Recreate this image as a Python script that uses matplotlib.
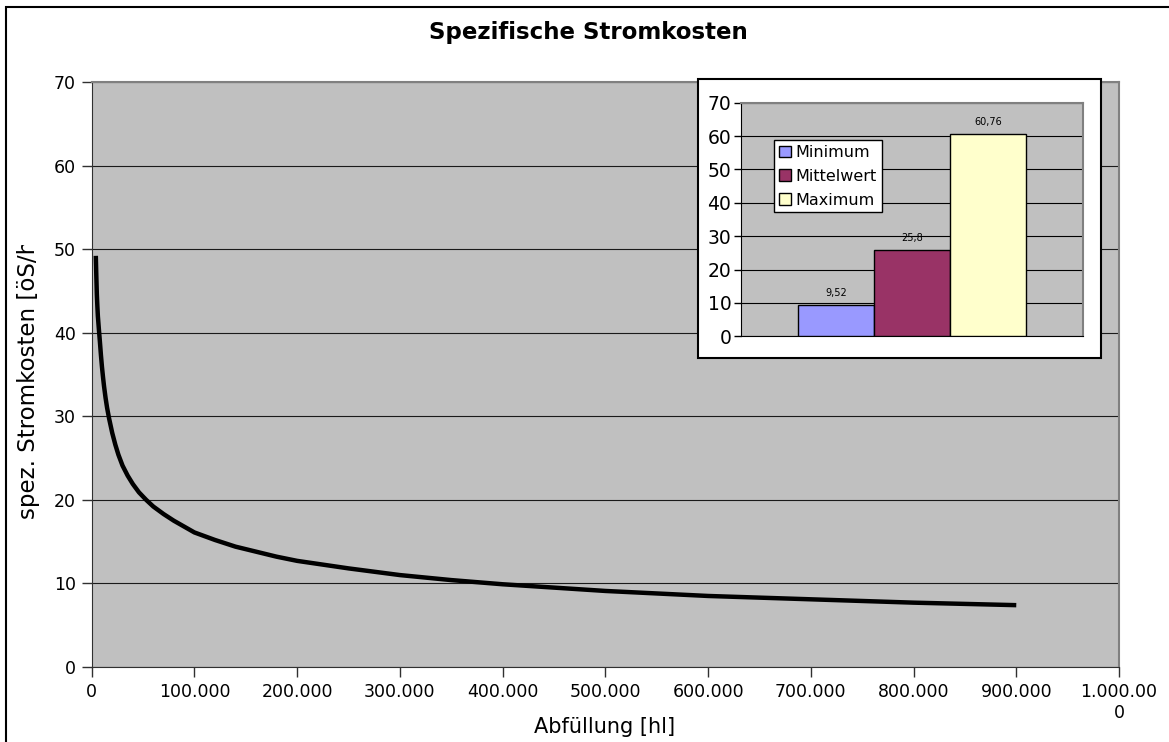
import matplotlib
matplotlib.use("Agg")
import matplotlib.pyplot as plt
from matplotlib.patches import Rectangle
from matplotlib.transforms import Bbox

# Abfuellmenge [hl] und spezifische Stromkosten [oeS/hl]
abfuellung = [4000, 4500, 5000, 5500, 6000, 7000, 8000, 9000, 10000, 11000, 12000, 13500,
              15000, 17000, 20000, 23000, 26000, 30000, 35000, 40000, 46000, 53000, 60000,
              70000, 80000, 90000, 100000, 120000, 140000, 160000, 180000, 200000, 250000,
              300000, 350000, 400000, 450000, 500000, 600000, 700000, 800000, 900000]
kosten = [49.2, 46.8, 44.6, 43.2, 42.0, 40.4, 38.9, 37.3, 35.9, 34.7, 33.6, 32.2,
          31.0, 29.7, 28.0, 26.6, 25.4, 24.1, 22.9, 21.9, 20.9, 20.0, 19.2,
          18.3, 17.5, 16.8, 16.1, 15.2, 14.4, 13.8, 13.2, 12.7, 11.8,
          11.0, 10.4, 9.9, 9.5, 9.1, 8.5, 8.1, 7.7, 7.4]

x_ticks = [0, 100000, 200000, 300000, 400000, 500000, 600000, 700000, 800000, 900000, 1000000]
x_labels = ['0', '100.000', '200.000', '300.000', '400.000', '500.000', '600.000',
            '700.000', '800.000', '900.000', '1.000.00\n0']

# Kennwerte fuer das kleine Balkendiagramm
kennwerte = ['Minimum', 'Mittelwert', 'Maximum']
kennwert_werte = [9.52, 25.8, 60.76]
kennwert_texte = ['9,52', '25,8', '60,76']
kennwert_farben = ['#9999FF', '#993366', '#FFFFCC']

W, H = 1169, 742
fig = plt.figure(figsize=(W / 100, H / 100), dpi=100)

# Rahmen um das ganze Diagramm
fig.patches.append(Rectangle((6 / W, -0.05), 1.2, (H - 7) / H + 0.05, transform=fig.transFigure,
                             fill=False, edgecolor='black', linewidth=1.5, zorder=0))

ax = fig.add_axes([91.7 / W, (H - 667) / H, (1119 - 91.7) / W, (667 - 82) / H])
ax.set_facecolor('#C0C0C0')
ax.plot(abfuellung, kosten, color='black', linewidth=3.2, solid_capstyle='butt',
        solid_joinstyle='round', zorder=3)
ax.set_xlim(0, 1000000)
ax.set_ylim(0, 70)
ax.set_yticks(range(0, 71, 10))
ax.set_xticks(x_ticks)
ax.set_xticklabels(x_labels)
ax.yaxis.grid(True, color='#1a1a1a', linewidth=0.8)
ax.set_axisbelow(True)
ax.tick_params(axis='both', length=7.5, width=1, color='#303030', labelsize=12.5, pad=4)
for side in ['left', 'bottom']:
    ax.spines[side].set_color('#303030')
for side in ['top', 'right']:
    ax.spines[side].set_color('#808080')
    ax.spines[side].set_linewidth(1.5)

fig.text(0.503, (H - 33) / H, 'Spezifische Stromkosten', ha='center', va='center',
         fontsize=16.5, fontweight='bold')
fig.text(605 / W, (H - 727) / H, 'Abfüllung [hl]', ha='center', va='center', fontsize=15)
# Achsentitel wird oben abgeschnitten
ylab = fig.text(29 / W, (H - 519) / H, 'spez. Stromkosten [öS/hl]', rotation=90,
                ha='center', va='bottom', fontsize=16.5)
ylab.set_clip_box(Bbox.from_extents(0, 0, W, H - 245))
ylab.set_clip_on(True)

# weisser Kasten fuer das eingebettete Diagramm
fig.patches.append(Rectangle((698 / W, (H - 358) / H), (1100.7 - 698) / W, (358 - 79.3) / H,
                             transform=fig.transFigure, facecolor='white', edgecolor='black',
                             linewidth=1.5, zorder=1))

ins = fig.add_axes([741 / W, (H - 336.3) / H, 342 / W, (336.3 - 102.7) / H], zorder=2)
ins.set_facecolor('#C0C0C0')
for i, (name, wert, farbe) in enumerate(zip(kennwerte, kennwert_werte, kennwert_farben)):
    ins.bar(i - 1, wert, width=1.0, color=farbe, edgecolor='black', linewidth=1,
            label=name, zorder=3)
    ins.annotate(kennwert_texte[i], (i - 1, wert), xytext=(0, 5), textcoords='offset points',
                 ha='center', va='bottom', fontsize=7)
ins.set_xlim(-2.25, 2.25)
ins.set_ylim(0, 70)
ins.set_yticks(range(0, 71, 10))
ins.set_xticks([])
ins.yaxis.grid(True, color='black', linewidth=0.8)
ins.set_axisbelow(True)
ins.tick_params(axis='y', length=5, width=1, color='black', labelsize=13.5, pad=2)
for side in ['left', 'bottom']:
    ins.spines[side].set_color('black')
for side in ['top', 'right']:
    ins.spines[side].set_color('#808080')
    ins.spines[side].set_linewidth(1.5)

leg = ins.legend(loc='upper left', bbox_to_anchor=((774 - 741) / 342, (336.3 - 140.3) / 233.6),
                 borderaxespad=0, fancybox=False, framealpha=1, edgecolor='black',
                 fontsize=11.5, handlelength=0.75, handleheight=0.75, handletextpad=0.3,
                 borderpad=0.3, labelspacing=0.55)
leg.get_frame().set_linewidth(1)

fig.savefig('out.png', dpi=100)
